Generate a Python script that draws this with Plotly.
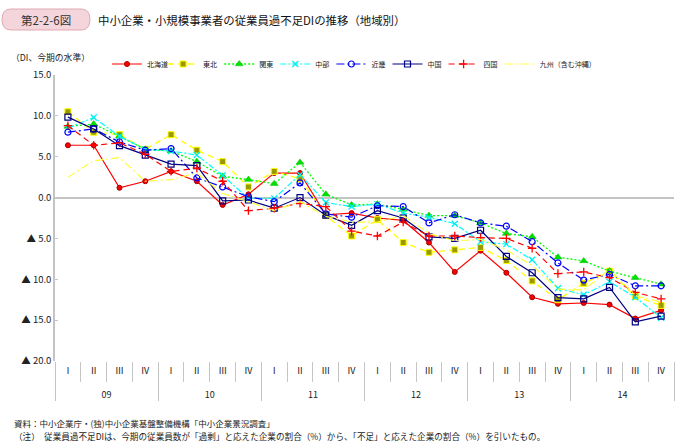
import plotly.graph_objects as go

# ---------------- data ----------------
years = ["09", "10", "11", "12", "13", "14"]
quarters = ["Ⅰ", "Ⅱ", "Ⅲ", "Ⅳ"]
x_year = ["<br>" + y for y in years for q in quarters]
x_quarter = [q for y in years for q in quarters]

region_names = ["北海道", "東北", "関東", "中部", "近畿", "中国", "四国", "九州（含む沖縄）"]

hokkaido = [6.4, 6.4, 1.2, 2.0, 3.2, 2.0, -0.9, 0.4, 3.0, 3.0, -2.1, -1.9,
            -2.5, -2.8, -5.5, -9.1, -6.5, -9.2, -12.2, -13.0, -12.9, -13.1, -14.8, -13.8]
tohoku = [10.5, 8.0, 7.7, 5.9, 7.7, 5.8, 4.4, 1.3, 3.2, 2.3, -2.2, -4.7,
          -2.7, -5.5, -6.7, -6.4, -6.1, -7.7, -10.2, -12.5, -10.5, -9.0, -12.1, -13.2]
kanto = [8.7, 9.0, 7.5, 5.9, 5.7, 4.4, 2.6, 2.2, 1.7, 4.3, 0.4, -0.9,
         -0.8, -1.45, -2.2, -2.2, -3.1, -4.4, -4.8, -7.3, -7.75, -9.0, -9.8, -10.6]
chubu = [8.5, 9.8, 7.5, 5.9, 5.7, 5.2, 2.7, -0.1, -0.1, 2.8, -0.6, -1.1,
         -0.8, -1.9, -2.4, -3.2, -5.4, -5.7, -7.6, -11.1, -11.9, -10.3, -12.2, -14.7]
kinki = [8.0, 8.4, 6.8, 5.8, 6.0, 2.4, 1.3, 0.1, -0.5, 1.8, -2.0, -2.4,
         -1.0, -1.1, -3.1, -2.1, -3.1, -3.5, -5.4, -8.0, -10.1, -9.4, -10.8, -10.8]
chugoku = [9.85, 8.4, 6.35, 5.2, 4.1, 3.9, -0.4, -0.3, -1.3, 0.0, -2.15, -3.4,
           -1.6, -2.5, -4.8, -5.0, -4.0, -7.2, -9.2, -12.25, -12.4, -11.0, -15.2, -14.5]
shikoku = [8.8, 6.4, 6.7, 5.3, 3.2, 3.6, 2.0, -1.6, -1.3, -0.7, -1.1, -4.1,
           -4.7, -3.0, -4.7, -4.7, -4.9, -5.0, -6.2, -9.3, -9.1, -9.8, -11.6, -12.4]
kyushu = [2.5, 4.5, 4.9, 2.0, 2.2, 3.0, 0.5, -0.5, -1.6, -0.5, -2.3, -3.0,
          -3.0, -2.2, -4.4, -5.3, -5.1, -6.4, -8.3, -11.2, -11.3, -8.8, -12.0, -12.8]

series_values = [hokkaido, tohoku, kanto, chubu, kinki, chugoku, shikoku, kyushu]

y_tickvals = [15, 10, 5, 0, -5, -10, -15, -20]
y_ticktext = ["15.0", "10.0", "5.0", "0.0", "▲ 5.0", "▲ 10.0", "▲ 15.0", "▲ 20.0"]

title_tag = "第2-2-6図"
title_text = "中小企業・小規模事業者の従業員過不足DIの推移（地域別）"
unit_text = "（DI、今期の水準）"
source_text = "資料：中小企業庁・(独)中小企業基盤整備機構「中小企業景況調査」"
note_text = "（注）　従業員過不足DIは、今期の従業員数が「過剰」と応えた企業の割合（%）から、「不足」と応えた企業の割合（%）を引いたもの。"

# ---------------- styles ----------------
styles = [
    dict(line=dict(color="#FF0000", width=1.2, dash="solid"),
         marker=dict(symbol="circle", size=5, color="#FF0000", line=dict(color="#A00000", width=1))),
    dict(line=dict(color="#FFFF00", width=1.3, dash="6px,4px"),
         marker=dict(symbol="square", size=6, color="#9A9A00", line=dict(color="#FFFF00", width=1))),
    dict(line=dict(color="#00FF00", width=1.3, dash="2px,2px"),
         marker=dict(symbol="triangle-up", size=7, color="#00E000", line=dict(color="#00C000", width=0.5))),
    dict(line=dict(color="#00FFFF", width=1.2, dash="6px,2px,2px,2px"),
         marker=dict(symbol="x-thin", size=6, color="#00FFFF", line=dict(color="#00EEEE", width=1.3))),
    dict(line=dict(color="#0000FF", width=1.2, dash="8px,3px,2px,3px"),
         marker=dict(symbol="circle-open", size=6, color="#0000FF", line=dict(width=1.2))),
    dict(line=dict(color="#000080", width=1.2, dash="solid"),
         marker=dict(symbol="square-open", size=6, color="#000080", line=dict(width=1.2))),
    dict(line=dict(color="#FF0000", width=1.2, dash="6px,4px"),
         marker=dict(symbol="cross-thin", size=6, color="#FF0000", line=dict(color="#FF0000", width=1.3))),
    dict(line=dict(color="#FFFF30", width=1.1, dash="8px,3px,2px,3px"),
         marker=dict(size=1, opacity=0)),
]

FONT = "Noto Sans CJK JP"

# plot area in pixels
W, H = 680, 443
L, R, T, B = 55, 6, 75, 82
PW, PH = W - L - R, H - T - B


def px_x(px):
    return (px - L) / PW


def px_y(py):
    return (H - B - py) / PH


fig = go.Figure()
for name, vals, st in zip(region_names, series_values, styles):
    last = name == "九州（含む沖縄）"
    fig.add_trace(go.Scatter(
        x=[x_year, x_quarter], y=vals, name=name,
        mode="lines" if last else "lines+markers",
        line=st["line"], marker=st["marker"], cliponaxis=False,
        legendwidth=70 if last else None,
    ))

grey = "#C4C4C4"

fig.update_layout(
    width=W, height=H,
    margin=dict(l=L, r=R, t=T, b=B, pad=0),
    paper_bgcolor="white", plot_bgcolor="white",
    font=dict(family=FONT, color="#222222", size=9),
    showlegend=True,
    legend=dict(orientation="h", x=px_x(107), xanchor="left", y=px_y(64), yanchor="middle",
                font=dict(size=7, family=FONT, color="#222222"),
                entrywidth=11.1, entrywidthmode="pixels", itemwidth=30,
                bgcolor="rgba(0,0,0,0)", tracegroupgap=0, traceorder="normal"),
    xaxis=dict(type="multicategory", range=[-0.5, 23.5], showgrid=False, zeroline=False,
               showline=False, ticks="outside", tickson="boundaries", ticklen=20,
               tickcolor=grey, tickwidth=1, showdividers=True, dividercolor=grey,
               dividerwidth=1, ticklabelstandoff=3,
               tickfont=dict(size=9, family=FONT, color="#222222")),
    xaxis2=dict(overlaying="x", anchor="free", position=px_y(T + 15 * PH / 35), side="top",
                range=[-0.5, 23.5], tickvals=[i + 0.5 for i in range(len(x_quarter) - 1)],
                ticks="outside", ticklen=3, tickcolor=grey, tickwidth=1,
                showticklabels=False, showgrid=False, zeroline=False, showline=False),
    yaxis=dict(range=[-20, 15], tickvals=y_tickvals, ticktext=y_ticktext, showgrid=False,
               zeroline=True, zerolinecolor=grey, zerolinewidth=1.5,
               showline=True, linecolor=grey, linewidth=1.5, ticks="inside", ticklen=3,
               tickcolor=grey, tickfont=dict(size=9.5, family=FONT, color="#222222")),
)

# title tag box (rounded)
x0, x1, y0, y1, r = 2, 90, 9, 30, 9
path = (f"M {px_x(x0 + r)},{px_y(y0)} L {px_x(x1 - r)},{px_y(y0)} "
        f"Q {px_x(x1)},{px_y(y0)} {px_x(x1)},{px_y((y0 + y1) / 2)} "
        f"Q {px_x(x1)},{px_y(y1)} {px_x(x1 - r)},{px_y(y1)} "
        f"L {px_x(x0 + r)},{px_y(y1)} "
        f"Q {px_x(x0)},{px_y(y1)} {px_x(x0)},{px_y((y0 + y1) / 2)} "
        f"Q {px_x(x0)},{px_y(y0)} {px_x(x0 + r)},{px_y(y0)} Z")
fig.add_shape(type="path", path=path, xref="paper", yref="paper",
              fillcolor="#F3D5DB", line=dict(color="#DFA9B4", width=1), layer="above")

annotations = [
    dict(text=title_tag, x=px_x(46), y=px_y(19.5), xanchor="center", yanchor="middle",
         font=dict(size=11.5, color="#333333")),
    dict(text=title_text, x=px_x(96), y=px_y(19.5), xanchor="left", yanchor="middle",
         font=dict(size=11.4, color="#111111")),
    dict(text=unit_text, x=px_x(9), y=px_y(57), xanchor="left", yanchor="middle",
         font=dict(size=8.8, color="#222222")),
    dict(text=source_text, x=px_x(12), y=px_y(423), xanchor="left", yanchor="middle",
         font=dict(size=8.5, color="#222222")),
    dict(text=note_text, x=px_x(12), y=px_y(436), xanchor="left", yanchor="middle",
         font=dict(size=8.6, color="#222222")),
]
for a in annotations:
    fig.add_annotation(xref="paper", yref="paper", showarrow=False, **a)

fig.write_html("out.html", config={"displayModeBar": False},
               post_script="document.body.style.margin='0';")
